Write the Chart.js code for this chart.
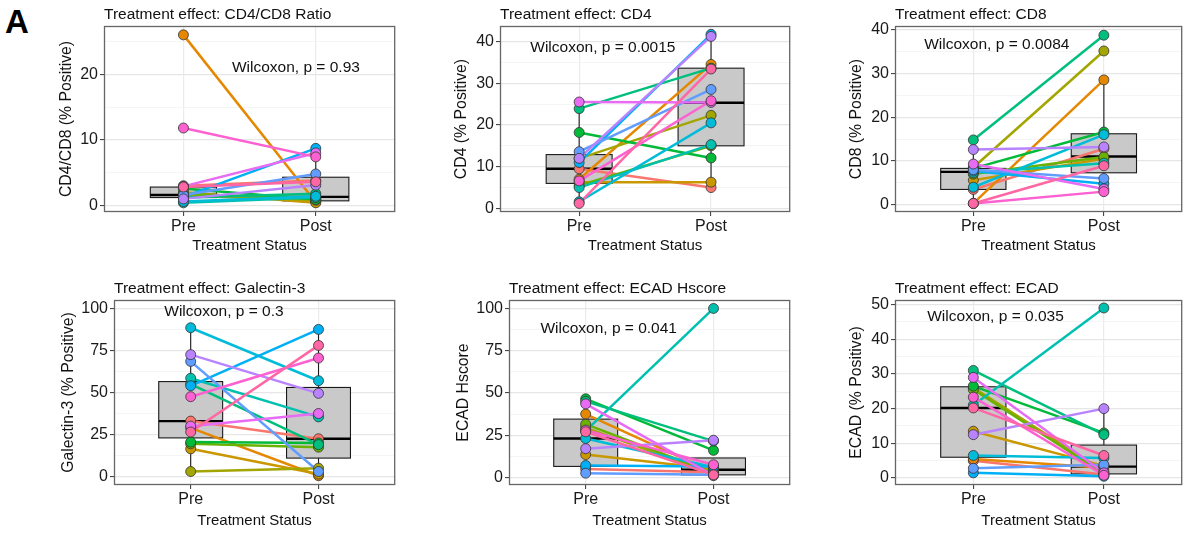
<!DOCTYPE html>
<html><head><meta charset="utf-8">
<script src="https://cdn.jsdelivr.net/npm/chart.js@4/dist/chart.umd.min.js"></script>
<style>
html,body{margin:0;padding:0;background:#fff;}
body{width:1188px;height:533px;position:relative;overflow:hidden;font-family:"Liberation Sans",Arial,sans-serif;}
canvas{position:absolute;}
#lab{position:absolute;left:5px;top:5px;font:bold 33px "Liberation Sans",Arial,sans-serif;line-height:1;color:#000;}
</style></head><body>
<div id="lab">A</div>
<script>
// ---------- data ----------
const categories = ['Pre', 'Post'];
const subjectColors = ['#F8766D','#E58700','#C99800','#A3A500','#6BB100','#00BA38','#00BF7D','#00C0AF',
                       '#00BCD8','#00B0F6','#619CFF','#B983FF','#E76BF3','#FD61D1','#FF67A4'];

// CD4/CD8 ratio
const ratioPre  = [3.0, 26.0, 2.0, 1.5, 1.8, 2.6, 1.2, 0.4, 0.6, 1.3, 1.6, 1.0, 2.9, 11.8, 2.8];
const ratioPost = [3.8, 0.5, 0.4, 0.8, 1.0, 0.9, 1.8, 1.2, 1.4, 8.7, 4.8, 3.1, 8.0, 7.4, 3.6];
const ratioBoxPre  = [0.3, 1.2, 1.6, 2.8, 3.0];   // lo, q1, median, q3, hi
const ratioBoxPost = [0.3, 0.7, 1.3, 4.3, 8.7];
const ratioTicks = [0, 10, 20];

// CD4
const cd4Pre  = [9.5, 7.0, 6.3, 12.0, 5.5, 18.2, 23.9, 5.0, 1.6, 11.0, 13.6, 12.0, 25.5, 6.6, 1.2];
const cd4Post = [5.0, 34.5, 6.3, 22.3, 15.0, 12.1, 33.6, 15.3, 20.5, 41.7, 28.5, 41.2, 25.4, 25.8, 33.4];
const cd4BoxPre  = [1.2, 6.0, 9.5, 12.9, 25.5];
const cd4BoxPost = [5.0, 15.0, 25.3, 33.6, 41.7];
const cd4Ticks = [0, 10, 20, 30, 40];

// CD8
const cd8Pre  = [3.5, 0.3, 5.6, 8.5, 7.0, 8.3, 14.8, 7.3, 4.0, 7.7, 8.0, 12.6, 9.3, 0.3, 0.3];
const cd8Post = [12.8, 28.5, 10.5, 35.1, 10.9, 16.6, 38.7, 9.5, 16.0, 4.8, 6.0, 13.2, 3.6, 3.0, 8.9];
const cd8BoxPre  = [0.3, 3.5, 7.5, 8.3, 14.8];
const cd8BoxPost = [3.0, 7.3, 11.0, 16.2, 28.5];
const cd8Ticks = [0, 10, 20, 30, 40];

// Galectin-3
const galPre  = [33.0, 29.0, 16.5, 3.0, 19.5, 20.5, 55.0, 58.5, 88.5, 54.0, 68.5, 72.5, 30.0, 47.5, 26.5];
const galPost = [22.5, 0.5, 1.5, 5.0, 17.5, 20.0, 19.0, 35.5, 57.0, 87.5, 3.0, 49.5, 37.5, 70.5, 78.0];
const galBoxPre  = [3.0, 23.0, 33.0, 56.5, 88.5];
const galBoxPost = [0.5, 11.0, 22.5, 53.0, 87.5];
const galTicks = [0, 25, 50, 75, 100];

// ECAD Hscore
const hsPre  = [5.0, 37.5, 13.5, 29.5, 31.5, 46.5, 45.0, 27.5, 23.0, 7.0, 2.5, 17.0, 43.5, 28.0, 27.0];
const hsPost = [3.0, 3.0, 5.0, 2.0, 2.5, 16.0, 21.5, 100.0, 6.0, 6.5, 1.5, 22.0, 1.0, 7.5, 1.5];
const hsBoxPre  = [2.5, 6.5, 23.0, 34.5, 46.5];
const hsBoxPost = [0.5, 1.5, 4.5, 11.5, 11.5];
const hsTicks = [0, 25, 50, 75, 100];

// ECAD
const ecadPre  = [5.0, 5.5, 13.5, 26.0, 25.5, 26.5, 31.0, 21.0, 6.5, 1.5, 2.8, 12.5, 29.0, 23.3, 20.2];
const ecadPost = [1.0, 3.0, 3.5, 2.0, 1.2, 13.0, 12.5, 49.0, 5.8, 0.5, 3.8, 20.0, 1.5, 0.8, 6.5];
const ecadBoxPre  = [1.5, 6.0, 20.2, 26.3, 31.0];
const ecadBoxPost = [0.5, 1.2, 3.3, 9.5, 20.0];
const ecadTicks = [0, 10, 20, 30, 40, 50];

// ---------- panels (layout) ----------
const FONT = "'Liberation Sans', Arial, sans-serif";
Chart.defaults.font.family = FONT;

const panels = [
  {title:'Treatment effect: CD4/CD8 Ratio', yTitle:'CD4/CD8 (% Positive)', pre:ratioPre, post:ratioPost,
   box:[ratioBoxPre, ratioBoxPost], ticks:ratioTicks, yMin:-1.0, yMax:27.35, pText:'Wilcoxon, p = 0.93', pX:1.85, pY:21,
   left:57, top:0, plotL:104, plotT:26, plotR:397, plotB:212, right:401, bottom:255},
  {title:'Treatment effect: CD4', yTitle:'CD4 (% Positive)', pre:cd4Pre, post:cd4Post,
   box:[cd4BoxPre, cd4BoxPost], ticks:cd4Ticks, yMin:-0.85, yMax:43.7, pText:'Wilcoxon, p = 0.0015', pX:1.18, pY:38.5,
   left:452, top:0, plotL:500, plotT:26, plotR:792, plotB:212, right:796, bottom:255},
  {title:'Treatment effect: CD8', yTitle:'CD8 (% Positive)', pre:cd8Pre, post:cd8Post,
   box:[cd8BoxPre, cd8BoxPost], ticks:cd8Ticks, yMin:-1.65, yMax:40.8, pText:'Wilcoxon, p = 0.0084', pX:1.18, pY:36.6,
   left:847, top:0, plotL:895, plotT:26, plotR:1187, plotB:212, right:1188, bottom:255},
  {title:'Treatment effect: Galectin-3', yTitle:'Galectin-3 (% Positive)', pre:galPre, post:galPost,
   box:[galBoxPre, galBoxPost], ticks:galTicks, yMin:-5, yMax:105, pText:'Wilcoxon, p = 0.3', pX:1.26, pY:98,
   left:59, top:270, plotL:114, plotT:300, plotR:397, plotB:485, right:401, bottom:530},
  {title:'Treatment effect: ECAD Hscore', yTitle:'ECAD Hscore', pre:hsPre, post:hsPost,
   box:[hsBoxPre, hsBoxPost], ticks:hsTicks, yMin:-4.5, yMax:105, pText:'Wilcoxon, p = 0.041', pX:1.18, pY:88,
   left:454, top:270, plotL:509, plotT:300, plotR:792, plotB:485, right:796, bottom:530},
  {title:'Treatment effect: ECAD', yTitle:'ECAD (% Positive)', pre:ecadPre, post:ecadPost,
   box:[ecadBoxPre, ecadBoxPost], ticks:ecadTicks, yMin:-2.0, yMax:51.3, pText:'Wilcoxon, p = 0.035', pX:1.17, pY:46.6,
   left:847, top:270, plotL:895, plotT:300, plotR:1187, plotB:485, right:1188, bottom:530}
];

const panelPlugin = {
  id: 'panelDecor',
  beforeDatasetsDraw(chart, args, opts) {
    const p = opts.panel, ctx = chart.ctx, xs = chart.scales.x, ys = chart.scales.y;
    ctx.save();
    p.box.forEach((b, i) => {
      const c = i + 1;
      const xc = xs.getPixelForValue(c), x0 = xs.getPixelForValue(c - 0.25), x1 = xs.getPixelForValue(c + 0.25);
      const yLo = ys.getPixelForValue(b[0]), yQ1 = ys.getPixelForValue(b[1]), yMed = ys.getPixelForValue(b[2]),
            yQ3 = ys.getPixelForValue(b[3]), yHi = ys.getPixelForValue(b[4]);
      ctx.strokeStyle = '#1a1a1a'; ctx.lineWidth = 1.1;
      ctx.beginPath(); ctx.moveTo(xc, yLo); ctx.lineTo(xc, yQ1); ctx.moveTo(xc, yQ3); ctx.lineTo(xc, yHi); ctx.stroke();
      ctx.fillStyle = '#c9c9c9';
      ctx.fillRect(x0, yQ3, x1 - x0, yQ1 - yQ3);
      ctx.strokeRect(x0, yQ3, x1 - x0, yQ1 - yQ3);
      ctx.lineWidth = 2.4; ctx.strokeStyle = '#000';
      ctx.beginPath(); ctx.moveTo(x0, yMed); ctx.lineTo(x1, yMed); ctx.stroke();
    });
    ctx.restore();
  },
  afterDraw(chart, args, opts) {
    const p = opts.panel, ctx = chart.ctx, a = chart.chartArea, xs = chart.scales.x, ys = chart.scales.y;
    ctx.save();
    ctx.strokeStyle = '#666'; ctx.lineWidth = 1.3;
    ctx.strokeRect(a.left + 0.5, a.top + 0.5, a.right - a.left - 1, a.bottom - a.top - 1);
    ctx.fillStyle = '#111';
    ctx.font = '15.5px ' + FONT;
    ctx.textBaseline = 'middle';
    ctx.textAlign = 'left';
    ctx.fillText(p.title, a.left, a.top - 11.5);
    ctx.textAlign = 'center';
    ctx.fillText(p.pText, xs.getPixelForValue(p.pX), ys.getPixelForValue(p.pY));
    ctx.restore();
  }
};

panels.forEach((p, k) => {
  const cv = document.createElement('canvas');
  const W = p.right - p.left, H = p.bottom - p.top;
  cv.width = W; cv.height = H;
  cv.style.left = p.left + 'px'; cv.style.top = p.top + 'px';
  cv.style.width = W + 'px'; cv.style.height = H + 'px';
  document.body.appendChild(cv);

  const datasets = [];
  for (let i = p.pre.length - 1; i >= 0; i--) {
    datasets.push({data:[{x:1, y:p.pre[i]}, {x:2, y:p.post[i]}], showLine:true, borderColor:subjectColors[i],
      borderWidth:2.5, pointRadius:0, order:2});
  }
  for (let i = p.pre.length - 1; i >= 0; i--) {
    datasets.push({data:[{x:1, y:p.pre[i]}, {x:2, y:p.post[i]}], showLine:false, backgroundColor:subjectColors[i],
      borderColor:'#333', borderWidth:0.8, pointRadius:5, order:1});
  }
  const majors = p.ticks;
  const step = majors[1] - majors[0];
  const allTicks = [];
  majors.forEach(v => { allTicks.push(v); });
  for (let v = majors[0] - step / 2; v <= p.yMax; v += step) { if (v >= p.yMin) allTicks.push(v); }
  allTicks.sort((a, b) => a - b);
  const isMajor = v => majors.some(m => Math.abs(m - v) < 1e-9);

  new Chart(cv, {
    type: 'scatter',
    data: {datasets},
    plugins: [panelPlugin],
    options: {
      responsive:false, animation:false, events:[],
      layout:{padding:{left:0, top:p.plotT - p.top, right:p.right - p.plotR, bottom:0}},
      plugins:{legend:{display:false}, tooltip:{enabled:false}, panelDecor:{panel:p}},
      scales:{
        x:{type:'linear', min:0.4, max:2.6,
          afterBuildTicks: s => { s.ticks = [{value:1}, {value:2}]; },
          afterFit: s => { s.height = p.bottom - p.plotB; },
          ticks:{callback: v => categories[Math.round(v) - 1], font:{size:16}, color:'#1a1a1a', padding:1, autoSkip:false, maxRotation:0},
          grid:{color:'#ebebeb', lineWidth:1.2, tickLength:4, tickColor:'#333', tickWidth:1},
          border:{display:false},
          title:{display:true, text:'Treatment Status', font:{size:15}, color:'#111', padding:0}
        },
        y:{type:'linear', min:p.yMin, max:p.yMax,
          afterBuildTicks: s => { s.ticks = allTicks.map(v => ({value:v})); },
          afterFit: s => { s.width = p.plotL - p.left; },
          ticks:{callback: v => isMajor(v) ? String(v) : '', font:{size:16}, color:'#1a1a1a', padding:2, autoSkip:false},
          grid:{color: c => isMajor(c.tick.value) ? '#e6e6e6' : '#f0f0f0',
                lineWidth: c => isMajor(c.tick.value) ? 1.2 : 0.7,
                tickColor: c => isMajor(c.tick.value) ? '#333' : 'rgba(0,0,0,0)',
                tickLength:4, tickWidth:1},
          border:{display:false},
          title:{display:true, text:p.yTitle, font:{size:15.8}, color:'#111', padding:0}
        }
      }
    }
  });
});
</script>
</body></html>
